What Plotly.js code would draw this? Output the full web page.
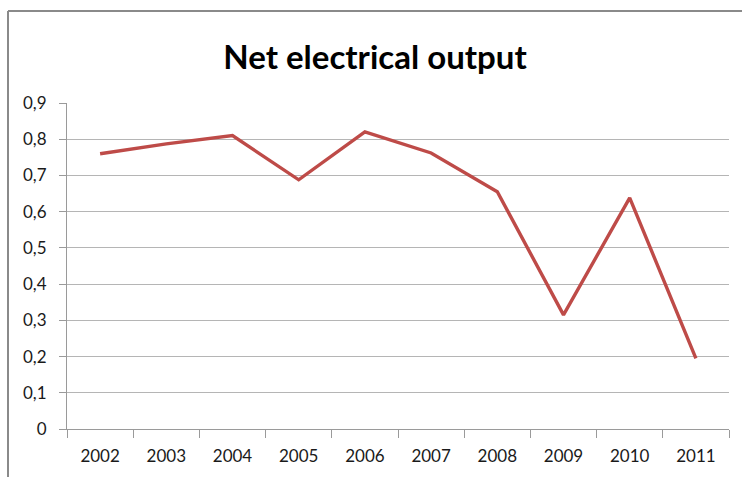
<!DOCTYPE html>
<html><head><meta charset="utf-8">
<script src="https://cdn.plot.ly/plotly-3.0.1.min.js"></script>
<style>html,body{margin:0;padding:0;background:#fff}</style>
</head><body>
<div id="chart" style="width:742px;height:477px"></div>
<script>
const years = ['2002','2003','2004','2005','2006','2007','2008','2009','2010','2011'];
const netOutput = [0.76, 0.787, 0.81, 0.688, 0.82, 0.762, 0.655, 0.315, 0.638, 0.195];

const L = 67, R = 13, T = 103, B = 48, W = 742, H = 477;
const pw = W - L - R, ph = H - T - B;
const px = v => (v - L) / pw;
const py = v => (H - B - v) / ph;

Plotly.newPlot('chart', [{
  x: years, y: netOutput, type: 'scatter', mode: 'lines',
  line: {color: '#BE4B48', width: 3.4}, hoverinfo: 'skip'
}], {
  width: W, height: H,
  margin: {l: L, r: R, t: T, b: B, pad: 0},
  paper_bgcolor: '#fff', plot_bgcolor: '#fff',
  separators: ', ',
  font: {family: 'Lato, "Open Sans", sans-serif', size: 17, color: '#1a1a1a'},
  title: {text: '<b>Net electrical output</b>', x: 375/742, xref: 'container', xanchor: 'center',
          y: 1 - 57/477, yref: 'container', yanchor: 'middle',
          font: {family: 'Lato, sans-serif', size: 33, color: '#000'}},
  showlegend: false,
  xaxis: {type: 'category', range: [-0.5, years.length - 0.5], tickson: 'boundaries', ticks: 'outside',
          ticklen: 8, tickcolor: '#9a9a9a', ticklabelstandoff: 12,
          showline: true, linecolor: '#9a9a9a', linewidth: 1, showgrid: false, zeroline: false,
          fixedrange: true, tickfont: {size: 17}},
  yaxis: {range: [0, 0.9], dtick: 0.1, tick0: 0, ticks: 'outside', ticklen: 7, tickcolor: '#9a9a9a',
          showline: true, linecolor: '#9a9a9a', linewidth: 1, showgrid: true, gridcolor: '#b5b5b5',
          gridwidth: 1, zeroline: false, ticklabelstandoff: 9, fixedrange: true, tickfont: {size: 17}},
  shapes: [
    {type: 'line', xref: 'paper', yref: 'paper', x0: px(8), x1: px(760), y0: py(11), y1: py(11),
     line: {color: '#8a8a8a', width: 2}},
    {type: 'line', xref: 'paper', yref: 'paper', x0: px(8), x1: px(8), y0: py(11), y1: py(490),
     line: {color: '#8a8a8a', width: 2}}
  ]
}, {staticPlot: true, displayModeBar: false});
</script>
</body></html>
